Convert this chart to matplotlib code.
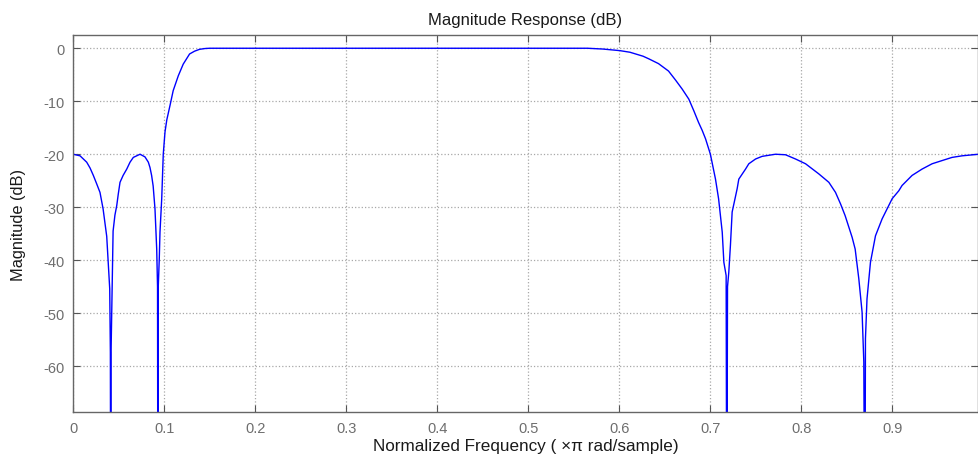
import matplotlib.pyplot as plt
import numpy as np

# magnitude response (normalized freq, dB)
freq = [0.0, 0.0077, 0.015, 0.0187, 0.0223, 0.026, 0.0296, 0.033, 0.037, 0.0403, 0.041, 0.0414,
        0.0418, 0.044, 0.046, 0.048, 0.0497, 0.0516, 0.055, 0.059, 0.0626, 0.0662, 0.0736,
        0.079, 0.0827, 0.0845, 0.0863, 0.088, 0.090, 0.0919, 0.0928,
        0.0932, 0.0936, 0.0947, 0.0955, 0.0974, 0.0991, 0.101, 0.103, 0.1065, 0.110, 0.113,
        0.1156, 0.121, 0.128, 0.1335, 0.139, 0.145, 0.150, 0.30, 0.45, 0.565, 0.582, 0.6006,
        0.6116, 0.626, 0.6324, 0.643, 0.654, 0.6617, 0.669, 0.6763, 0.6818, 0.687, 0.691,
        0.6947, 0.700, 0.7056, 0.709, 0.713, 0.7148, 0.7173, 0.718,
        0.7188, 0.7202, 0.722, 0.7239, 0.7294, 0.7312, 0.7386, 0.7422, 0.7496, 0.7568, 0.7715,
        0.7825, 0.7935, 0.8045, 0.819, 0.8301, 0.8374, 0.843, 0.848, 0.8557, 0.859, 0.863,
        0.8666, 0.8685, 0.8696,
        0.8703, 0.872, 0.8758, 0.8813, 0.8886, 0.8996, 0.9069, 0.9105, 0.9215, 0.9325, 0.9435,
        0.9544, 0.9654, 0.9764, 0.9947]
mag_db = [-20.0, -20.3, -21.5, -22.6, -24.0, -25.6, -27.2, -30.3, -35.5, -45.4, -57.4, -100.0,
          -57.0, -34.5, -31.5, -29.7, -27.5, -25.3, -24.0, -22.8, -21.5, -20.6, -20.0,
          -20.5, -21.5, -22.5, -24.0, -26.0, -30.3, -37.9, -45.0,
          -100.0, -45.0, -39.8, -34.7, -28.4, -20.0, -15.8, -13.5, -10.8, -8.0, -6.5,
          -5.2, -3.0, -1.08, -0.55, -0.2, -0.05, 0.0, 0.0, 0.0, 0.0, -0.15, -0.45,
          -0.75, -1.5, -2.0, -2.9, -4.3, -6.0, -7.7, -9.6, -11.8, -14.0, -15.5,
          -17.1, -20.0, -24.7, -28.4, -34.7, -40.4, -42.9, -100.0,
          -45.0, -42.3, -37.2, -30.9, -26.5, -24.7, -22.8, -21.8, -20.9, -20.4, -20.0,
          -20.1, -20.9, -21.8, -23.7, -25.3, -27.2, -29.4, -31.6, -35.7, -37.9, -43.5,
          -49.8, -59.2, -100.0,
          -54.8, -47.3, -40.4, -35.4, -32.2, -28.4, -26.9, -25.9, -24.0, -22.8, -21.8,
          -21.2, -20.6, -20.3, -20.0]

xticks = np.arange(0, 1.0, 0.1)
xtick_labels = ["0", "0.1", "0.2", "0.3", "0.4", "0.5", "0.6", "0.7", "0.8", "0.9"]
yticks = [0, -10, -20, -30, -40, -50, -60]
ytick_labels = ["0", "-10", "-20", "-30", "-40", "-50", "-60"]

plt.rcParams["font.family"] = ["Liberation Sans", "DejaVu Sans"]

fig = plt.figure(figsize=(9.79, 4.64), dpi=100)
ax = fig.add_axes([0.0746, 0.1093, 0.924, 0.8131])

ax.plot(freq, mag_db, color="#0000ff", linewidth=1.0)

ax.set_xlim(0, 0.9935)
ax.set_ylim(-68.7, 2.5)
ax.set_xticks(xticks)
ax.set_xticklabels(xtick_labels)
ax.set_yticks(yticks)
ax.set_yticklabels(ytick_labels)

ax.grid(True, color="#a8a8a8", linestyle=":", linewidth=0.9)
ax.tick_params(direction="in", length=5, width=0.8, color="#555555",
               labelcolor="#6e6e6e", labelsize=10.5, top=True, right=True, pad=6)
for spine in ax.spines.values():
    spine.set_color("#666666")
    spine.set_linewidth(1.0)

ax.set_title("Magnitude Response (dB)", fontsize=12, color="#1a1a1a", pad=8)
ax.set_xlabel("Normalized Frequency ( \u00d7\u03c0 rad/sample)", fontsize=12.3,
              color="#1a1a1a")
ax.set_ylabel("Magnitude (dB)", fontsize=11.8, color="#1a1a1a")
ax.xaxis.set_label_coords(0.5, -0.068)
ax.yaxis.set_label_coords(-0.052, 0.5)

fig.savefig("out.png", dpi=100)
